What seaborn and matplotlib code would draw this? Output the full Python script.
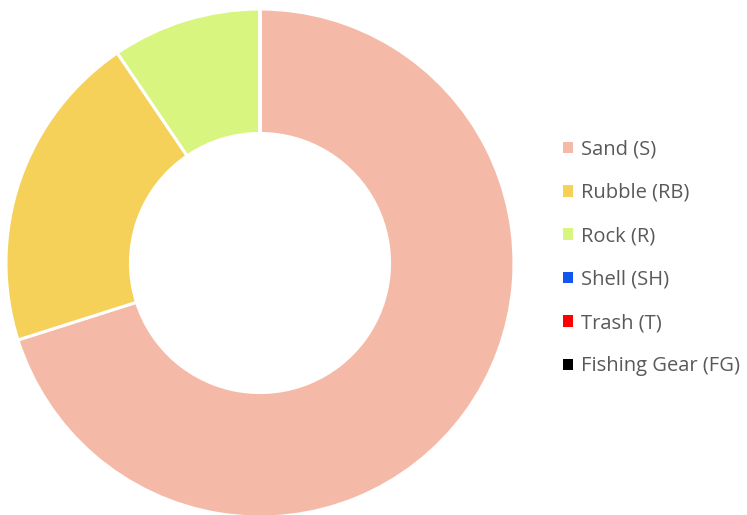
import matplotlib
matplotlib.use("Agg")
import matplotlib.pyplot as plt
from matplotlib.patches import Patch
import seaborn as sns

# Bottom substrate composition (% cover)
categories = ["Sand (S)", "Rubble (RB)", "Rock (R)", "Shell (SH)", "Trash (T)", "Fishing Gear (FG)"]
cover = [70.1, 20.4, 9.5, 0.0, 0.0, 0.0]
colors = ["#F4BAA7", "#F6D15A", "#D8F57F", "#1356EE", "#FF0000", "#000000"]

sns.set_theme(style="white")
plt.rcParams["font.family"] = ["Open Sans", "DejaVu Sans"]

fig = plt.figure(figsize=(7.47, 5.15), dpi=100)
W, H = 747, 515
cx, cy, r = 260, 263, 254
ax = fig.add_axes([(cx - r) / W, (H - cy - r) / H, 2 * r / W, 2 * r / H])

ax.pie(
    cover,
    colors=colors,
    startangle=90,
    counterclock=False,
    radius=1.0,
    wedgeprops=dict(width=0.49, edgecolor="white", linewidth=2.2),
)
ax.set_xlim(-1, 1)
ax.set_ylim(-1, 1)
ax.set_aspect("equal")
ax.axis("off")

handles = [Patch(facecolor=c, edgecolor="none") for c in colors]
fig.legend(
    handles,
    categories,
    loc="center left",
    bbox_to_anchor=(563 / W, 1 - 258 / H),
    frameon=False,
    fontsize=14.5,
    labelcolor="#595959",
    handlelength=0.5,
    handleheight=0.5,
    handletextpad=0.38,
    labelspacing=1.16,
    borderaxespad=0,
    borderpad=0,
)

fig.savefig("out.png", dpi=100, facecolor="white")
